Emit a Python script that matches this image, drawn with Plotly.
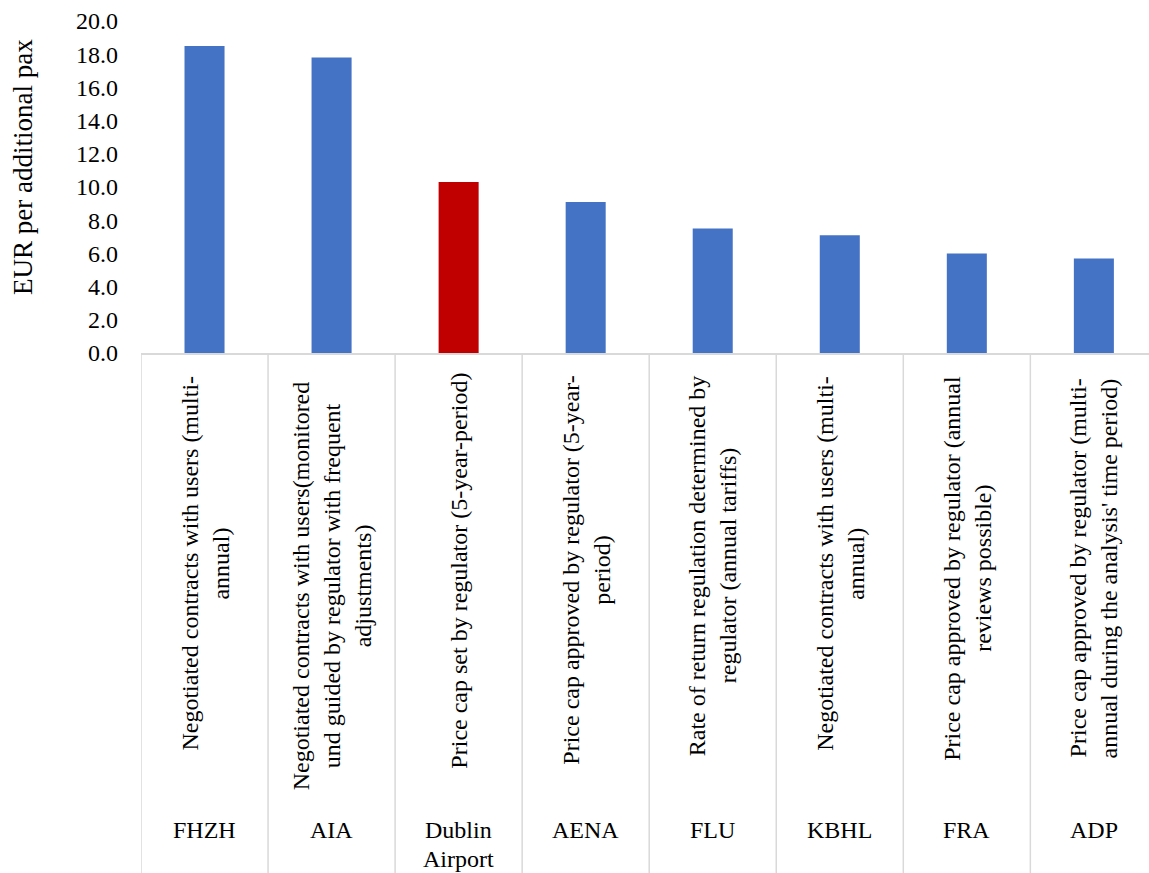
import plotly.graph_objects as go

# ---- data ----
airports = ["FHZH", "AIA", "Dublin<br>Airport", "AENA", "FLU", "KBHL", "FRA", "ADP"]
regulation = [
    "Negotiated contracts with users (multi-<br>annual)",
    "Negotiated contracts with users(monitored<br>und guided by regulator with frequent<br>adjustments)",
    "Price cap set by regulator (5-year-period)",
    "Price cap approved by regulator (5-year-<br>period)",
    "Rate of return regulation determined by<br>regulator (annual tariffs)",
    "Negotiated contracts with users (multi-<br>annual)",
    "Price cap approved by regulator (annual<br>reviews possible)",
    "Price cap approved by regulator (multi-<br>annual during the analysis' time period)",
]
values = [18.5, 17.8, 10.3, 9.1, 7.5, 7.1, 6.0, 5.7]
highlight = "Dublin<br>Airport"
y_title = "EUR per additional pax"

# ---- layout constants ----
W, H = 1149, 873
PLOT_TOP, PLOT_BOTTOM, PLOT_LEFT = 21, 353, 141
PLOT_H = PLOT_BOTTOM - PLOT_TOP
CAT_W = 127.05
FONT = "Liberation Serif"
FS = 24
BLUE, RED = "#4472C4", "#C00000"
GRID = "#D9D9D9"
LINE_PITCH = 31
reg_center_px = [563.5, 585.7, 571, 570.5, 566, 563.5, 568.5, 568]
name_top_px = 830
NAME_PITCH = 29


def py(p):
    return (PLOT_BOTTOM - p) / PLOT_H


n = len(airports)
xs = list(range(n))
colors = [RED if a == highlight else BLUE for a in airports]

fig = go.Figure(go.Bar(x=xs, y=values, width=0.315, marker=dict(color=colors, line_width=0)))

shapes = []
for i in range(n + 1):
    shapes.append(dict(type="line", xref="x", yref="paper", x0=i - 0.5, x1=i - 0.5,
                       y0=0, y1=py(H + 5), line=dict(color=GRID, width=1.5)))

annotations = []
for i, (reg, c) in enumerate(zip(regulation, reg_center_px)):
    lines = reg.split("<br>")
    k = len(lines)
    for j, ln in enumerate(lines):
        annotations.append(dict(
            x=i, xref="x", y=py(c), yref="paper", text=ln, showarrow=False,
            textangle=-90, xanchor="center", yanchor="middle",
            xshift=(j - (k - 1) / 2) * LINE_PITCH,
            font=dict(family=FONT, size=FS, color="#000000")))
for i, a in enumerate(airports):
    for j, ln in enumerate(a.split("<br>")):
        annotations.append(dict(
            x=i, xref="x", y=py(name_top_px + j * NAME_PITCH), yref="paper", text=ln,
            showarrow=False, xanchor="center", yanchor="middle",
            font=dict(family=FONT, size=FS, color="#000000")))
annotations.append(dict(
    x=(23 - PLOT_LEFT) / (W - PLOT_LEFT), xref="paper", y=py(167), yref="paper",
    text=y_title, showarrow=False, textangle=-90, xanchor="center", yanchor="middle",
    font=dict(family=FONT, size=27, color="#000000")))

fig.update_layout(
    width=W, height=H,
    margin=dict(l=PLOT_LEFT, r=0, t=PLOT_TOP, b=H - PLOT_BOTTOM, pad=0),
    paper_bgcolor="white", plot_bgcolor="white",
    showlegend=False,
    xaxis=dict(range=[-0.5, -0.5 + (W - PLOT_LEFT) / CAT_W], showticklabels=False,
               showgrid=False, zeroline=False, showline=True, linecolor=GRID, linewidth=1.5,
               ticks="", fixedrange=True),
    yaxis=dict(range=[0, 20], dtick=2, tick0=0, tickformat=".1f", showgrid=False,
               zeroline=False, showline=False, ticks="", ticklabelstandoff=22,
               tickfont=dict(family=FONT, size=FS, color="#000000"), fixedrange=True),
    shapes=shapes,
    annotations=annotations,
)

fig.write_html("out.html")
